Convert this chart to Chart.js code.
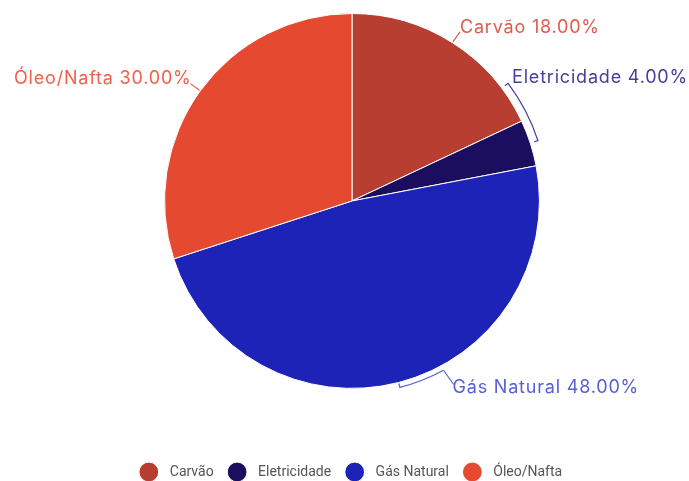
<!DOCTYPE html>
<html>
<head>
<meta charset="utf-8">
<script src="https://cdn.jsdelivr.net/npm/chart.js@4.4.1/dist/chart.umd.min.js"></script>
<style>
  html, body { margin: 0; padding: 0; background: #ffffff; }
  #wrap { width: 689px; height: 481px; }
</style>
</head>
<body>
<div id="wrap"><canvas id="c" width="689" height="481"></canvas></div>
<script>
const categories = ["Carvão", "Eletricidade", "Gás Natural", "Óleo/Nafta"];
const shares = [18, 4, 48, 30];
const sliceColors = ["#b83e31", "#1b0e5e", "#1e23b7", "#e5492f"];
const labelColors = ["#e05a50", "#453f9a", "#5760d6", "#f1604a"];

const labelPlugin = {
  id: 'outLabels',
  afterDatasetsDraw(chart) {
    const ctx = chart.ctx;
    const meta = chart.getDatasetMeta(0);
    ctx.save();
    ctx.font = '18px Inter, "Open Sans", sans-serif';
    if ('letterSpacing' in ctx) ctx.letterSpacing = '0.8px';
    ctx.textBaseline = 'alphabetic';
    ctx.lineWidth = 1.2;
    meta.data.forEach((arc, i) => {
      const cx = arc.x, cy = arc.y, r = arc.outerRadius;
      const mid = (arc.startAngle + arc.endAngle) / 2;
      const text = categories[i] + ' ' + shares[i].toFixed(2) + '%';
      const col = labelColors[i];
      ctx.strokeStyle = col;
      ctx.fillStyle = col;
      const pt = (ang, rad) => [cx + Math.cos(ang) * rad, cy + Math.sin(ang) * rad];
      if (i === 0) {
        const p = pt(mid, r + 1);
        const q = [p[0] + 7, p[1] - 10];
        ctx.beginPath(); ctx.moveTo(p[0], p[1]); ctx.lineTo(q[0], q[1]); ctx.stroke();
        ctx.textAlign = 'left';
        ctx.fillText(text, q[0], q[1] + 1);
      } else if (i === 3) {
        const p = pt(mid, r + 1);
        const q = [p[0] - 9, p[1] - 6.5];
        ctx.beginPath(); ctx.moveTo(p[0], p[1]); ctx.lineTo(q[0], q[1]); ctx.stroke();
        ctx.textAlign = 'right';
        ctx.fillText(text, q[0] + 1, q[1]);
      } else {
        const span = (i === 1 ? 19 : 14) * Math.PI / 180;
        const br = r + (i === 1 ? 8 : 5);
        const a0 = mid, a1 = mid - span;
        const h0 = pt(a0, br - 4), s0 = pt(a0, br), s1 = pt(a1, br), h1 = pt(a1, br - 4);
        ctx.beginPath();
        ctx.moveTo(h0[0], h0[1]);
        ctx.lineTo(s0[0], s0[1]);
        ctx.arc(cx, cy, br, a0, a1, true);
        if (i === 1) ctx.lineTo(h1[0], h1[1]);
        ctx.stroke();
        ctx.textAlign = 'left';
        if (i === 1) {
          ctx.fillText(text, s1[0] + 4, s1[1]);
        } else {
          const q = [s1[0] + 10, s1[1] + 14];
          ctx.beginPath(); ctx.moveTo(s1[0], s1[1]); ctx.lineTo(q[0], q[1]); ctx.stroke();
          ctx.fillText(text, q[0] - 1, q[1] + 9);
        }
      }
    });
    ctx.restore();
  }
};

new Chart(document.getElementById('c'), {
  type: 'pie',
  data: {
    labels: categories,
    datasets: [{
      data: shares,
      backgroundColor: sliceColors,
      borderColor: '#ffffff',
      borderWidth: 1
    }]
  },
  options: {
    responsive: false,
    animation: false,
    layout: { padding: { top: 13, left: 15, right: 0, bottom: -8 } },
    plugins: {
      tooltip: { enabled: false },
      legend: {
        position: 'bottom',
        title: { display: true, text: ' ', font: { size: 1 }, padding: { top: 58.4, bottom: 0 } },
        labels: {
          usePointStyle: true,
          pointStyle: 'circle',
          boxWidth: 14,
          boxHeight: 14,
          padding: 16.5,
          color: '#555555',
          font: { family: 'Roboto, sans-serif', size: 14 },
          generateLabels(chart) {
            const base = Chart.overrides.pie.plugins.legend.labels.generateLabels(chart);
            return base.map(item => Object.assign(item, { text: '  ' + item.text }));
          }
        }
      }
    }
  },
  plugins: [labelPlugin]
});
</script>
</body>
</html>
